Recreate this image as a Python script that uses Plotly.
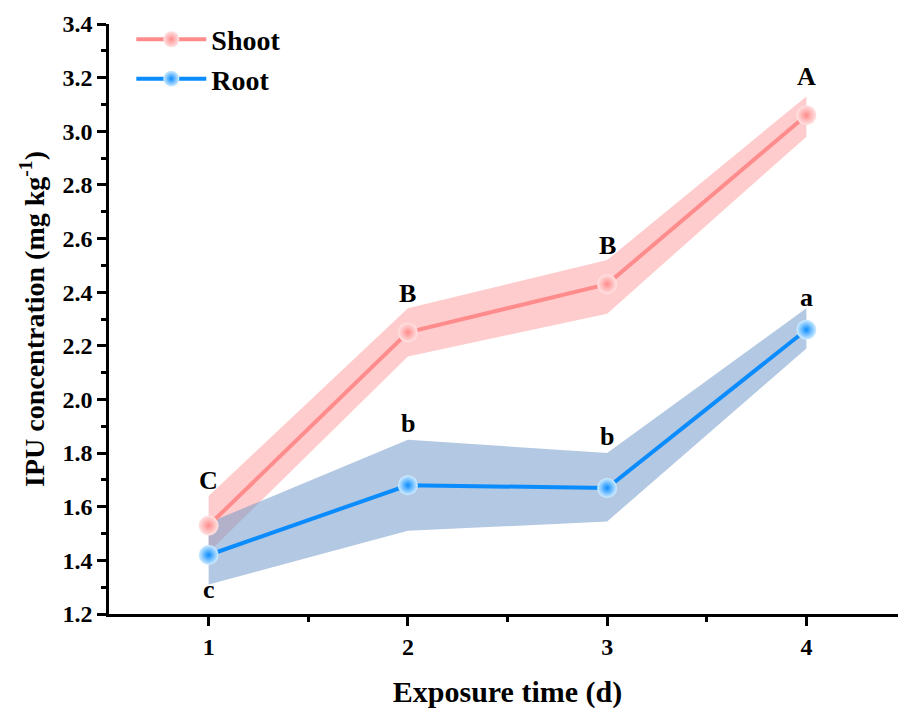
import plotly.graph_objects as go

days = [1, 2, 3, 4]
shoot = [1.53, 2.25, 2.43, 3.06]
shoot_upper = [1.64, 2.34, 2.52, 3.13]
shoot_lower = [1.43, 2.16, 2.32, 2.98]
root = [1.42, 1.68, 1.67, 2.26]
root_upper = [1.54, 1.85, 1.80, 2.34]
root_lower = [1.31, 1.51, 1.545, 2.19]
shoot_letters = ["C", "B", "B", "A"]
root_letters = ["c", "b", "b", "a"]

FONT = "Liberation Serif"
SHOOT_C = "#FF8C8C"
SHOOT_BAND = "rgba(253,170,170,0.6)"
ROOT_C = "#0A8CFF"
ROOT_BAND = "rgba(110,150,200,0.52)"

fig = go.Figure()
fig.add_trace(go.Scatter(x=days + days[::-1], y=shoot_upper + shoot_lower[::-1],
                         fill="toself", fillcolor=SHOOT_BAND, line=dict(width=0),
                         mode="lines", showlegend=False, hoverinfo="skip"))
fig.add_trace(go.Scatter(x=days + days[::-1], y=root_upper + root_lower[::-1],
                         fill="toself", fillcolor=ROOT_BAND, line=dict(width=0),
                         mode="lines", showlegend=False, hoverinfo="skip"))
fig.add_trace(go.Scatter(x=days, y=shoot, name="<b>Shoot</b>", mode="lines+markers",
                         line=dict(color=SHOOT_C, width=4),
                         marker=dict(size=20, color="#FFE4E4",
                                     gradient=dict(type="radial", color=SHOOT_C))))
fig.add_trace(go.Scatter(x=days, y=root, name="<b>Root</b>", mode="lines+markers",
                         line=dict(color=ROOT_C, width=4),
                         marker=dict(size=20, color="#D4EEFF",
                                     gradient=dict(type="radial", color=ROOT_C))))

# significance letters
shoot_shift = [45, 39, 39, 39]
root_shift = [-34, 62, 51, 32]
for d, v, t, s in zip(days, shoot, shoot_letters, shoot_shift):
    fig.add_annotation(x=d, y=v, text="<b>" + t + "</b>", showarrow=False, yshift=s,
                       font=dict(family=FONT, size=26, color="black"))
for d, v, t, s in zip(days, root, root_letters, root_shift):
    fig.add_annotation(x=d, y=v, text="<b>" + t + "</b>", showarrow=False, yshift=s,
                       font=dict(family=FONT, size=26, color="black"))

fig.update_layout(
    width=898, height=710,
    margin=dict(l=101, r=0, t=16, b=104, autoexpand=False),
    plot_bgcolor="white", paper_bgcolor="white",
    font=dict(family=FONT, size=24, color="black", weight="bold"),
    showlegend=True,
    legend=dict(x=0.028, y=1.016, xanchor="left", yanchor="top",
                bgcolor="rgba(0,0,0,0)", font=dict(family=FONT, size=28, weight="bold"),
                itemwidth=70, tracegroupgap=0),
    xaxis=dict(range=[0.5, 4.5], tickvals=days, ticktext=[str(d) for d in days],
               showline=True, linecolor="black", linewidth=2.5,
               ticks="outside", ticklen=9, tickwidth=2.5, tickcolor="black",
               minor=dict(tickvals=[1.5, 2.5, 3.5], ticks="outside", ticklen=5,
                          tickwidth=2.5, tickcolor="black"),
               showgrid=False, zeroline=False, automargin=False,
               tickfont=dict(family=FONT, size=24, weight="bold"),
               title=dict(text="<b>Exposure time (d)</b>",
                          font=dict(family=FONT, size=30, weight="bold"), standoff=23)),
    yaxis=dict(range=[1.2, 3.4], dtick=0.2, tickformat=".1f",
               showline=True, linecolor="black", linewidth=2.5,
               ticks="outside", ticklen=9, tickwidth=2.5, tickcolor="black",
               minor=dict(dtick=0.1, ticks="outside", ticklen=5,
                          tickwidth=2.5, tickcolor="black"),
               showgrid=False, zeroline=False, automargin=False,
               tickfont=dict(family=FONT, size=24, weight="bold"),
               title=dict(text="<b>IPU concentration (mg kg<sup>-1</sup>)</b>",
                          font=dict(family=FONT, size=28, weight="bold"), standoff=10)),
)

fig.write_html("out.html")
